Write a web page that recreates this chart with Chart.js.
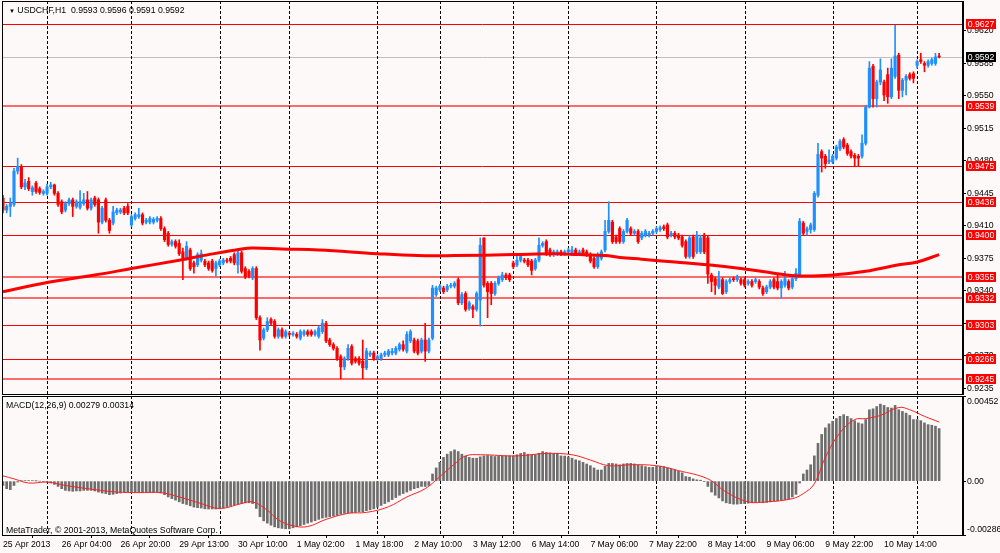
<!DOCTYPE html>
<html>
<head>
<meta charset="utf-8">
<title>USDCHF,H1</title>
<script src="https://cdn.jsdelivr.net/npm/chart.js@4.4.0/dist/chart.umd.min.js"></script>
<style>
  html, body { margin: 0; padding: 0; background: #fdf9f8; }
  #wrap { position: relative; width: 1000px; height: 553px; overflow: hidden; background: #fdf9f8;
          font-family: "Liberation Sans", Arial, sans-serif; }
  #mainChart { position: absolute; left: 0; top: 0; }
  #macdChart { position: absolute; left: 0; top: 395px; }
  .lbl { position: absolute; font-size: 8.7px; line-height: 10px; color: #000; white-space: pre; }
  .tri { font-size: 6px; }
</style>
</head>
<body>
<div id="wrap">
  <canvas id="mainChart" width="1000" height="395"></canvas>
  <canvas id="macdChart" width="1000" height="158"></canvas>
  <div class="lbl" style="left:9px;top:5px;"><span class="tri">▼</span> USDCHF,H1  0.9593 0.9596 0.9591 0.9592</div>
  <div class="lbl" style="left:6px;top:400px;">MACD(12,26,9) 0.00279 0.00314</div>
  <div class="lbl" style="left:6px;top:525px;">MetaTrader, © 2001-2013, MetaQuotes Software Corp.</div>
</div>
<script>
// ── DATA ────────────────────────────────────────────────────
// H1 candles, one entry per bar (bar index = position in array)
const open = [
  .9440,.9427,.9431,.9433,.9469,.9474,.9452,.9458,.9447,.9456,
  .9450,.9445,.9445,.9452,.9454,.9445,.9436,.9427,.9434,.9438,
  .9431,.9430,.9434,.9438,.9429,.9440,.9438,.9414,.9438,.9416,
  .9413,.9424,.9425,.9429,.9431,.9411,.9418,.9420,.9422,.9414,
  .9414,.9414,.9416,.9418,.9407,.9402,.9390,.9393,.9391,.9382,
  .9375,.9384,.9370,.9368,.9373,.9372,.9370,.9372,.9364,.9368,
  .9370,.9373,.9375,.9379,.9368,.9381,.9364,.9361,.9354,.9364,
  .9311,.9289,.9298,.9309,.9307,.9291,.9298,.9291,.9294,.9293,
  .9293,.9289,.9293,.9296,.9296,.9293,.9291,.9296,.9305,.9287,
  .9282,.9278,.9269,.9258,.9267,.9280,.9267,.9267,.9264,.9257,
  .9271,.9273,.9267,.9267,.9271,.9271,.9273,.9273,.9277,.9282,
  .9275,.9286,.9287,.9286,.9275,.9287,.9275,.9289,.9336,.9341,
  .9343,.9341,.9345,.9345,.9352,.9327,.9337,.9321,.9323,.9320,
  .9330,.9397,.9348,.9348,.9337,.9348,.9352,.9357,.9357,.9370,
  .9368,.9373,.9373,.9373,.9372,.9364,.9373,.9389,.9393,.9384,
  .9379,.9380,.9382,.9380,.9382,.9380,.9384,.9380,.9384,.9382,
  .9379,.9375,.9366,.9375,.9384,.9404,.9414,.9398,.9407,.9393,
  .9404,.9407,.9402,.9404,.9397,.9400,.9400,.9402,.9404,.9406,
  .9409,.9411,.9400,.9402,.9400,.9398,.9393,.9377,.9398,.9382,
  .9382,.9400,.9397,.9357,.9353,.9344,.9352,.9339,.9350,.9353,
  .9352,.9352,.9352,.9348,.9350,.9350,.9350,.9343,.9339,.9344,
  .9352,.9350,.9343,.9346,.9350,.9344,.9353,.9357,.9413,.9404,
  .9406,.9406,.9443,.9490,.9485,.9479,.9479,.9483,.9493,.9503,
  .9497,.9490,.9486,.9485,.9485,.9499,.9538,.9582,.9547,.9565,
  .9565,.9573,.9549,.9571,.9594,.9556,.9567,.9573,.9574,.9583,
  .9589,.9585,.9583,.9585,.9585,.9593
];
const high = [
  .9443,.9433,.9440,.9472,.9483,.9476,.9460,.9462,.9453,.9458,
  .9452,.9449,.9455,.9457,.9455,.9447,.9438,.9436,.9440,.9440,
  .9438,.9448,.9445,.9447,.9440,.9442,.9440,.9431,.9440,.9418,
  .9431,.9429,.9429,.9431,.9434,.9422,.9424,.9429,.9424,.9418,
  .9420,.9419,.9420,.9420,.9409,.9404,.9395,.9395,.9395,.9386,
  .9393,.9386,.9372,.9381,.9384,.9374,.9372,.9374,.9372,.9374,
  .9375,.9375,.9377,.9381,.9384,.9383,.9366,.9363,.9366,.9366,
  .9313,.9300,.9311,.9311,.9309,.9300,.9300,.9298,.9296,.9296,
  .9295,.9298,.9298,.9298,.9298,.9298,.9302,.9309,.9307,.9289,
  .9284,.9280,.9271,.9269,.9282,.9282,.9269,.9269,.9287,.9278,
  .9275,.9275,.9271,.9273,.9275,.9277,.9278,.9280,.9284,.9286,
  .9296,.9298,.9289,.9288,.9289,.9305,.9289,.9346,.9345,.9347,
  .9345,.9347,.9348,.9350,.9354,.9338,.9339,.9329,.9325,.9339,
  .9397,.9397,.9350,.9350,.9350,.9356,.9360,.9359,.9359,.9372,
  .9379,.9380,.9375,.9375,.9374,.9375,.9397,.9393,.9395,.9386,
  .9384,.9384,.9384,.9384,.9386,.9388,.9386,.9384,.9386,.9384,
  .9381,.9377,.9381,.9384,.9416,.9436,.9416,.9400,.9409,.9406,
  .9418,.9409,.9406,.9406,.9404,.9406,.9404,.9406,.9409,.9410,
  .9411,.9413,.9404,.9404,.9402,.9400,.9395,.9400,.9400,.9404,
  .9400,.9402,.9399,.9359,.9355,.9361,.9354,.9352,.9354,.9355,
  .9357,.9354,.9354,.9352,.9352,.9354,.9352,.9345,.9346,.9352,
  .9354,.9359,.9352,.9361,.9352,.9357,.9364,.9418,.9415,.9409,
  .9413,.9447,.9499,.9492,.9487,.9492,.9487,.9497,.9503,.9505,
  .9499,.9492,.9488,.9487,.9508,.9540,.9587,.9584,.9567,.9590,
  .9567,.9580,.9590,.9626,.9596,.9569,.9573,.9575,.9576,.9589,
  .9596,.9587,.9589,.9591,.9596,.9596
];
const low = [
  .9424,.9424,.9420,.9431,.9466,.9450,.9449,.9448,.9443,.9445,
  .9444,.9443,.9443,.9450,.9443,.9431,.9423,.9425,.9432,.9420,
  .9429,.9428,.9432,.9427,.9427,.9431,.9402,.9412,.9414,.9402,
  .9411,.9422,.9423,.9422,.9422,.9409,.9416,.9418,.9411,.9412,
  .9412,.9412,.9414,.9405,.9393,.9388,.9388,.9386,.9378,.9352,
  .9373,.9362,.9359,.9366,.9371,.9366,.9362,.9360,.9356,.9366,
  .9368,.9370,.9370,.9368,.9359,.9359,.9353,.9354,.9352,.9309,
  .9276,.9287,.9296,.9303,.9289,.9289,.9289,.9289,.9291,.9291,
  .9289,.9287,.9291,.9291,.9291,.9291,.9289,.9294,.9284,.9280,
  .9276,.9265,.9245,.9255,.9265,.9260,.9262,.9260,.9245,.9255,
  .9269,.9265,.9265,.9265,.9269,.9269,.9271,.9271,.9275,.9275,
  .9273,.9284,.9273,.9271,.9273,.9264,.9273,.9287,.9334,.9339,
  .9337,.9339,.9343,.9343,.9325,.9325,.9318,.9319,.9311,.9318,
  .9302,.9344,.9311,.9325,.9335,.9346,.9350,.9352,.9350,.9364,
  .9366,.9371,.9370,.9366,.9357,.9362,.9371,.9387,.9378,.9377,
  .9377,.9378,.9378,.9378,.9380,.9378,.9378,.9378,.9378,.9377,
  .9370,.9364,.9364,.9373,.9382,.9402,.9391,.9391,.9391,.9391,
  .9402,.9400,.9400,.9391,.9395,.9398,.9398,.9400,.9402,.9404,
  .9405,.9396,.9398,.9396,.9395,.9387,.9375,.9375,.9375,.9380,
  .9380,.9380,.9348,.9339,.9336,.9342,.9336,.9337,.9348,.9350,
  .9350,.9346,.9344,.9346,.9344,.9348,.9342,.9335,.9337,.9342,
  .9342,.9341,.9332,.9344,.9341,.9342,.9351,.9355,.9400,.9400,
  .9402,.9404,.9441,.9468,.9472,.9477,.9477,.9481,.9491,.9493,
  .9486,.9483,.9474,.9474,.9483,.9497,.9537,.9538,.9538,.9562,
  .9545,.9542,.9547,.9569,.9547,.9549,.9551,.9567,.9564,.9580,
  .9585,.9576,.9581,.9583,.9583,.9591
];
const close = [
  .9427,.9431,.9434,.9469,.9474,.9452,.9456,.9450,.9451,.9447,
  .9446,.9447,.9452,.9454,.9445,.9433,.9425,.9434,.9438,.9431,
  .9436,.9436,.9438,.9429,.9438,.9433,.9414,.9429,.9416,.9405,
  .9425,.9427,.9427,.9424,.9424,.9420,.9422,.9422,.9413,.9416,
  .9418,.9417,.9418,.9407,.9395,.9390,.9393,.9388,.9380,.9375,
  .9388,.9364,.9366,.9379,.9380,.9368,.9364,.9362,.9370,.9372,
  .9373,.9372,.9372,.9370,.9381,.9361,.9355,.9356,.9364,.9311,
  .9287,.9298,.9307,.9305,.9291,.9298,.9291,.9296,.9293,.9294,
  .9291,.9296,.9296,.9293,.9293,.9296,.9300,.9305,.9286,.9282,
  .9278,.9267,.9258,.9267,.9278,.9262,.9264,.9262,.9257,.9275,
  .9273,.9267,.9269,.9271,.9273,.9275,.9275,.9278,.9282,.9277,
  .9293,.9296,.9275,.9273,.9287,.9275,.9287,.9343,.9343,.9345,
  .9339,.9345,.9346,.9348,.9327,.9336,.9320,.9327,.9320,.9337,
  .9389,.9346,.9339,.9337,.9348,.9354,.9357,.9354,.9352,.9366,
  .9373,.9377,.9372,.9368,.9362,.9373,.9389,.9391,.9380,.9379,
  .9382,.9382,.9380,.9382,.9384,.9384,.9380,.9382,.9380,.9379,
  .9372,.9366,.9379,.9382,.9404,.9416,.9393,.9393,.9393,.9404,
  .9416,.9402,.9404,.9393,.9402,.9404,.9402,.9404,.9407,.9408,
  .9407,.9398,.9402,.9398,.9397,.9389,.9377,.9397,.9377,.9400,
  .9397,.9382,.9358,.9350,.9346,.9353,.9337,.9350,.9352,.9352,
  .9355,.9348,.9346,.9350,.9346,.9352,.9344,.9337,.9344,.9350,
  .9344,.9343,.9350,.9353,.9343,.9353,.9359,.9415,.9402,.9407,
  .9411,.9445,.9487,.9483,.9477,.9481,.9485,.9495,.9501,.9495,
  .9488,.9485,.9483,.9483,.9499,.9538,.9580,.9547,.9565,.9578,
  .9551,.9549,.9580,.9593,.9556,.9567,.9571,.9569,.9569,.9587,
  .9587,.9583,.9587,.9589,.9592,.9592
];

// slow moving average, read at a few bars
const maBars   = [0, 12, 25, 35, 48, 56, 65, 68, 76, 86, 102, 113, 123, 139, 150, 157, 164, 168,
                  174, 183, 192, 201, 210, 217, 226, 235, 244, 249, 255];
const maValues = [.9339, .9349, .9357, .9364, .9373, .9379, .9385, .9386, .9385, .9384, .9380, .9378,
                  .9378, .9379, .9380, .9379, .9378, .9376, .9374, .9371, .9368, .9364, .9359, .9356,
                  .9357, .9361, .9368, .9371, .9379];

// horizontal levels
const levels      = [0.9627, 0.9539, 0.9475, 0.9436, 0.9400, 0.9355, 0.9332, 0.9303, 0.9266, 0.9245];
const majorLevels = [0.9539, 0.9355, 0.9332, 0.9245];
const priceTicks  = [0.9620, 0.9585, 0.9550, 0.9515, 0.9480, 0.9445, 0.9410, 0.9375, 0.9340, 0.9305, 0.9270, 0.9235];

// MACD(12,26,9) main histogram, one per bar
const macdMain = [
  -0.00023,-0.00040,-0.00045,-0.00023,-0.00005,0.00002,0.00002,0.00003,0.00002,0.00001,
  0.00000,-0.00002,-0.00005,-0.00010,-0.00017,-0.00028,-0.00040,-0.00049,-0.00052,-0.00054,
  -0.00052,-0.00052,-0.00049,-0.00049,-0.00049,-0.00052,-0.00058,-0.00063,-0.00066,-0.00072,
  -0.00070,-0.00066,-0.00063,-0.00059,-0.00056,-0.00059,-0.00059,-0.00059,-0.00061,-0.00061,
  -0.00061,-0.00061,-0.00059,-0.00063,-0.00072,-0.00084,-0.00093,-0.00101,-0.00110,-0.00119,
  -0.00124,-0.00131,-0.00138,-0.00141,-0.00143,-0.00147,-0.00148,-0.00148,-0.00148,-0.00147,
  -0.00143,-0.00138,-0.00133,-0.00127,-0.00122,-0.00119,-0.00115,-0.00115,-0.00119,-0.00145,
  -0.00189,-0.00211,-0.00223,-0.00234,-0.00243,-0.00248,-0.00251,-0.00253,-0.00253,-0.00248,
  -0.00243,-0.00237,-0.00230,-0.00223,-0.00217,-0.00210,-0.00203,-0.00196,-0.00192,-0.00189,
  -0.00185,-0.00182,-0.00175,-0.00171,-0.00168,-0.00168,-0.00166,-0.00162,-0.00162,-0.00157,
  -0.00152,-0.00147,-0.00138,-0.00129,-0.00119,-0.00110,-0.00098,-0.00087,-0.00075,-0.00066,
  -0.00058,-0.00049,-0.00040,-0.00035,-0.00028,-0.00028,-0.00023,0.00038,0.00070,0.00100,
  0.00126,0.00143,0.00157,0.00166,0.00157,0.00143,0.00133,0.00126,0.00122,0.00122,
  0.00129,0.00134,0.00136,0.00134,0.00131,0.00133,0.00134,0.00134,0.00134,0.00134,
  0.00140,0.00147,0.00152,0.00143,0.00140,0.00140,0.00148,0.00157,0.00152,0.00150,
  0.00147,0.00147,0.00134,0.00133,0.00129,0.00122,0.00113,0.00108,0.00100,0.00091,
  0.00082,0.00070,0.00059,0.00059,0.00079,0.00094,0.00094,0.00091,0.00087,0.00091,
  0.00094,0.00094,0.00091,0.00086,0.00082,0.00077,0.00073,0.00073,0.00077,0.00079,
  0.00077,0.00070,0.00065,0.00059,0.00052,0.00044,0.00024,0.00021,0.00012,0.00007,
  0.00005,-0.00002,-0.00028,-0.00058,-0.00075,-0.00089,-0.00105,-0.00115,-0.00119,-0.00122,
  -0.00122,-0.00120,-0.00119,-0.00117,-0.00115,-0.00112,-0.00112,-0.00115,-0.00113,-0.00110,
  -0.00107,-0.00105,-0.00101,-0.00098,-0.00094,-0.00084,-0.00070,-0.00010,0.00038,0.00059,
  0.00087,0.00134,0.00201,0.00248,0.00283,0.00304,0.00318,0.00332,0.00344,0.00353,
  0.00344,0.00332,0.00321,0.00309,0.00304,0.00327,0.00379,0.00384,0.00396,0.00409,
  0.00402,0.00391,0.00388,0.00402,0.00379,0.00370,0.00361,0.00349,0.00327,0.00327,
  0.00321,0.00309,0.00300,0.00297,0.00292,0.00279
];
// signal line, read at a few bars
const signalBars   = [0, 3, 7, 12, 17, 25, 31, 37, 43, 48, 54, 59, 65, 68, 72, 75, 79, 83, 88, 94, 99,
                      105, 110, 115, 119, 123, 126, 130, 140, 148, 155, 160, 165, 171, 178, 184, 192,
                      197, 203, 208, 215, 218, 221, 224, 228, 232, 235, 239, 244, 247, 251, 255];
const signalValues = [0.00028, 0.00012, -0.00010, -0.00005, -0.00023, -0.00045, -0.00058, -0.00061,
                      -0.00061, -0.00084, -0.00119, -0.00145, -0.00119, -0.00110, -0.00154, -0.00206,
                      -0.00237, -0.00241, -0.00203, -0.00171, -0.00166, -0.00136, -0.00084, -0.00040,
                      0.00024, 0.00091, 0.00134, 0.00140, 0.00134, 0.00147, 0.00140, 0.00112, 0.00082,
                      0.00087, 0.00082, 0.00056, 0.00012, -0.00058, -0.00110, -0.00110, -0.00093,
                      -0.00066, -0.00014, 0.00126, 0.00257, 0.00327, 0.00332, 0.00349, 0.00391,
                      0.00379, 0.00344, 0.00314];
const macdTicks = [0.00452, 0, -0.00286];

// time axis: label every 16 bars, dashed separators at first bar of each day
const timeBars   = [0, 16, 32, 48, 64, 80, 96, 112, 128, 144, 160, 176, 192, 208, 224, 240];
const timeLabels = ['25 Apr 2013', '26 Apr 04:00', '26 Apr 20:00', '29 Apr 13:00', '30 Apr 10:00',
                    '1 May 02:00', '1 May 18:00', '2 May 10:00', '3 May 12:00', '6 May 14:00',
                    '7 May 06:00', '7 May 22:00', '8 May 14:00', '9 May 06:00', '9 May 22:00',
                    '10 May 14:00'];
const dayStarts  = [12, 35, 59, 78, 102, 119, 139, 154, 178, 202, 226, 249];

// ── STYLE ───────────────────────────────────────────────────
const FONT    = { family: '"Liberation Sans", Arial, sans-serif', size: 8.7 };
const BULL    = '#1e90ff';
const BEAR    = '#ff0000';
const X_MIN   = -0.27;
const X_MAX   = 261.5;
const AXIS_W  = 37;

Chart.defaults.font.family = FONT.family;
Chart.defaults.font.size = FONT.size;
Chart.defaults.color = '#000';

const barIdx = close.map((_, i) => i);
const candleColors = barIdx.map(i => close[i] >= open[i] ? BULL : BEAR);

function fixWidth(s) { s.width = AXIS_W; s.paddingTop = 0; s.paddingBottom = 0; }

// dashed day separators + frame, shared by both panels
const separators = {
  id: 'separators',
  beforeDatasetsDraw(chart) {
    const { ctx, chartArea: a, scales: { x } } = chart;
    ctx.save();
    ctx.strokeStyle = '#000';
    ctx.lineWidth = 1;
    ctx.setLineDash([3, 2]);
    dayStarts.forEach(b => {
      const px = Math.round(x.getPixelForValue(b)) + 0.5;
      ctx.beginPath();
      ctx.moveTo(px, a.top);
      ctx.lineTo(px, a.bottom);
      ctx.stroke();
    });
    ctx.restore();
  },
  afterDraw(chart) {
    const { ctx, chartArea: a } = chart;
    ctx.save();
    ctx.strokeStyle = '#000';
    ctx.lineWidth = 1;
    ctx.strokeRect(a.left + 0.5, a.top + 0.5, a.right - a.left - 1, a.bottom - a.top);
    ctx.restore();
  }
};

// price levels, bid line and their right-hand tags
const levelLines = {
  id: 'levelLines',
  beforeDatasetsDraw(chart) {
    const { ctx, chartArea: a, scales: { y } } = chart;
    ctx.save();
    const bid = close[close.length - 1];
    let py = Math.round(y.getPixelForValue(bid)) + 0.5;
    ctx.strokeStyle = '#c0c0c0';
    ctx.lineWidth = 1;
    ctx.beginPath(); ctx.moveTo(a.left, py); ctx.lineTo(a.right, py); ctx.stroke();
    levels.forEach(l => {
      const major = majorLevels.includes(l);
      py = Math.round(y.getPixelForValue(l)) + (major ? 0 : 0.5);
      ctx.strokeStyle = major ? '#ff6a6a' : '#ff0000';
      ctx.lineWidth = major ? 2 : 1;
      ctx.beginPath(); ctx.moveTo(a.left, py); ctx.lineTo(a.right, py); ctx.stroke();
    });
    ctx.restore();
  },
  afterDraw(chart) {
    const { ctx, chartArea: a, scales: { y } } = chart;
    ctx.save();
    ctx.font = `${FONT.size}px ${FONT.family}`;
    ctx.textAlign = 'center';
    ctx.textBaseline = 'middle';
    const tag = (v, bg) => {
      const py = Math.round(y.getPixelForValue(v));
      ctx.fillStyle = bg;
      ctx.fillRect(a.right + 3, py - 5, 30, 10);
      ctx.fillStyle = '#fff';
      ctx.fillText(v.toFixed(4), a.right + 18, py + 0.5);
    };
    levels.forEach(l => tag(l, '#ff0000'));
    tag(close[close.length - 1], '#000');
    ctx.restore();
  }
};

// ── MAIN PRICE PANEL ───────────────────────────────────────
new Chart(document.getElementById('mainChart'), {
  type: 'bar',
  data: {
    datasets: [
      {
        type: 'line',
        data: maBars.map((b, i) => ({ x: b, y: maValues[i] })),
        borderColor: '#ff0000',
        borderWidth: 3,
        pointRadius: 0,
        tension: 0.4,
        order: 0,
      },
      {
        data: barIdx.map(i => ({ x: i, y: [open[i], close[i]] })),
        backgroundColor: candleColors,
        barThickness: 2.5,
        minBarLength: 1,
        grouped: false,
        order: 1,
      },
      {
        data: barIdx.map(i => ({ x: i, y: [low[i], high[i]] })),
        backgroundColor: candleColors,
        barThickness: 1,
        grouped: false,
        order: 2,
      }
    ]
  },
  options: {
    responsive: false,
    animation: false,
    layout: { padding: { left: 2, top: 1, bottom: 1, right: 0 } },
    plugins: { legend: { display: false }, tooltip: { enabled: false } },
    scales: {
      x: { type: 'linear', display: false, min: X_MIN, max: X_MAX, offset: false },
      y: {
        position: 'right',
        min: 0.92288,
        max: 0.96523,
        afterBuildTicks: s => { s.ticks = priceTicks.map(v => ({ value: v })); },
        afterFit: fixWidth,
        ticks: { autoSkip: false, padding: 1, font: FONT, color: '#000', callback: v => v.toFixed(4) },
        grid: { drawOnChartArea: false, drawTicks: true, tickLength: 3, color: '#000' },
        border: { display: true, color: '#000' },
      }
    }
  },
  plugins: [levelLines, separators]
});

// ── MACD PANEL ─────────────────────────────────────────────
new Chart(document.getElementById('macdChart'), {
  type: 'bar',
  data: {
    datasets: [
      {
        type: 'line',
        data: signalBars.map((b, i) => ({ x: b, y: signalValues[i] })),
        borderColor: '#ff2020',
        borderWidth: 1,
        pointRadius: 0,
        tension: 0.4,
        order: 0,
      },
      {
        data: barIdx.map(i => ({ x: i, y: macdMain[i] })),
        backgroundColor: '#6e6e6e',
        barThickness: 2,
        grouped: false,
        order: 1,
      }
    ]
  },
  options: {
    responsive: false,
    animation: false,
    layout: { padding: { left: 2, top: 1, bottom: 0, right: 0 } },
    plugins: { legend: { display: false }, tooltip: { enabled: false } },
    scales: {
      x: {
        type: 'linear',
        min: X_MIN,
        max: X_MAX,
        offset: false,
        afterBuildTicks: s => { s.ticks = timeBars.map(v => ({ value: v })); },
        afterFit: s => { s.height = 18; s.paddingLeft = 0; s.paddingRight = 0; },
        ticks: { autoSkip: false, maxRotation: 0, align: 'start', padding: 1, font: FONT, color: '#000',
                 callback: (v, i) => timeLabels[i] },
        grid: { drawOnChartArea: false, drawTicks: true, tickLength: 3, color: '#000' },
        border: { display: true, color: '#000' },
      },
      y: {
        position: 'right',
        min: macdTicks[2],
        max: macdTicks[0],
        afterBuildTicks: s => { s.ticks = macdTicks.map(v => ({ value: v })); },
        afterFit: fixWidth,
        ticks: {
          autoSkip: false, padding: 1, font: FONT, color: '#000',
          callback: v => {
            if (v === 0) return '0.00';
            const t = v.toFixed(5);
            return v > 0 ? ['', t] : [t, ''];
          }
        },
        grid: { drawOnChartArea: false, drawTicks: true, tickLength: 3, color: '#000' },
        border: { display: true, color: '#000' },
      }
    }
  },
  plugins: [separators]
});
</script>
</body>
</html>
